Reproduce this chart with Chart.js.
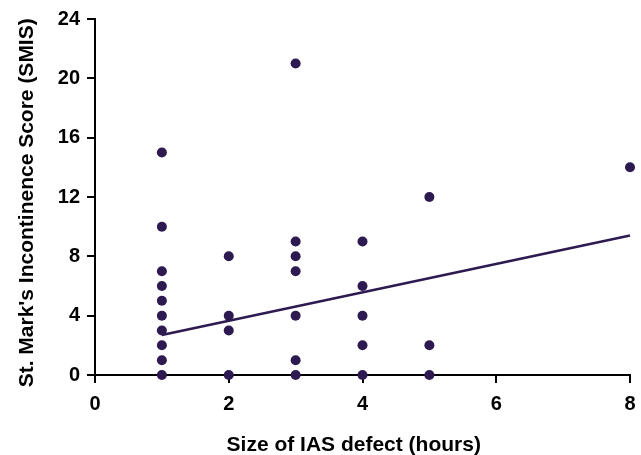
<!DOCTYPE html>
<html>
<head>
<meta charset="utf-8">
<script src="https://cdn.jsdelivr.net/npm/chart.js@4/dist/chart.umd.min.js"></script>
<style>
  html, body { margin: 0; padding: 0; background: #fff; }
  #wrap { width: 641px; height: 455px; }
</style>
</head>
<body>
<div id="wrap"><canvas id="chart" width="641" height="455"></canvas></div>
<script>
// IAS defect size (hours) vs SMIS score, one entry per patient
const defectHours = [1, 1, 1, 1, 1, 1, 1, 1, 1, 1,
                     2, 2, 2, 2,
                     3, 3, 3, 3, 3, 3, 3,
                     4, 4, 4, 4, 4,
                     5, 5, 5,
                     8];
const smisScores = [0, 1, 2, 3, 4, 5, 6, 7, 10, 15,
                    0, 3, 4, 8,
                    0, 1, 4, 7, 8, 9, 21,
                    0, 2, 4, 6, 9,
                    0, 2, 12,
                    14];
// regression line end points
const trendX = [1, 8];
const trendY = [2.7, 9.4];

const xTicks = [0, 2, 4, 6, 8];
const yTicks = [0, 4, 8, 12, 16, 20, 24];

const PURPLE = "#2d1a50";
const FONT = "'Liberation Sans', Arial, sans-serif";

const points = defectHours.map((x, i) => ({ x: x, y: smisScores[i] }));
const trend = trendX.map((x, i) => ({ x: x, y: trendY[i] }));

new Chart(document.getElementById("chart").getContext("2d"), {
    type: "scatter",
    data: {
        datasets: [
            {
                label: "SMIS",
                data: points,
                backgroundColor: PURPLE,
                borderColor: PURPLE,
                pointRadius: 5,
                pointHoverRadius: 5,
                borderWidth: 0,
                clip: false,
            },
            {
                label: "Trend",
                type: "line",
                data: trend,
                borderColor: PURPLE,
                borderWidth: 2.5,
                pointRadius: 0,
                fill: false,
                clip: false,
            },
        ],
    },
    options: {
        responsive: false,
        animation: false,
        layout: { padding: { top: 19, right: 11, left: 0, bottom: 0 } },
        plugins: {
            legend: { display: false },
            tooltip: { enabled: false },
        },
        scales: {
            x: {
                type: "linear",
                min: 0,
                max: 8,
                afterBuildTicks: (s) => { s.ticks = xTicks.map((v) => ({ value: v })); },
                afterFit: (s) => { s.height = 80; s.paddingRight = 0; s.paddingLeft = 0; },
                border: { display: true, color: "#000", width: 2 },
                grid: { drawOnChartArea: false, drawTicks: true, tickLength: 8, color: "#000", lineWidth: 2 },
                ticks: { color: "#000", padding: 9, font: { family: FONT, size: 20, weight: "bold" } },
                title: {
                    display: true,
                    text: "Size of IAS defect (hours)   ",
                    color: "#000",
                    padding: { top: 0, bottom: -3 },
                    font: { family: FONT, size: 21, weight: "bold" },
                },
            },
            y: {
                type: "linear",
                min: 0,
                max: 24,
                afterBuildTicks: (s) => { s.ticks = yTicks.map((v) => ({ value: v })); },
                afterFit: (s) => { s.width = 95; },
                border: { display: true, color: "#000", width: 2 },
                grid: { drawOnChartArea: false, drawTicks: true, tickLength: 8, color: "#000", lineWidth: 2 },
                ticks: { color: "#000", padding: 7, font: { family: FONT, size: 20, weight: "bold" } },
                title: {
                    display: true,
                    text: "St. Mark's Incontinence Score (SMIS)  ",
                    color: "#000",
                    padding: { top: 15, bottom: 0 },
                    font: { family: FONT, size: 21, weight: "bold" },
                },
            },
        },
    },
});
</script>
</body>
</html>
